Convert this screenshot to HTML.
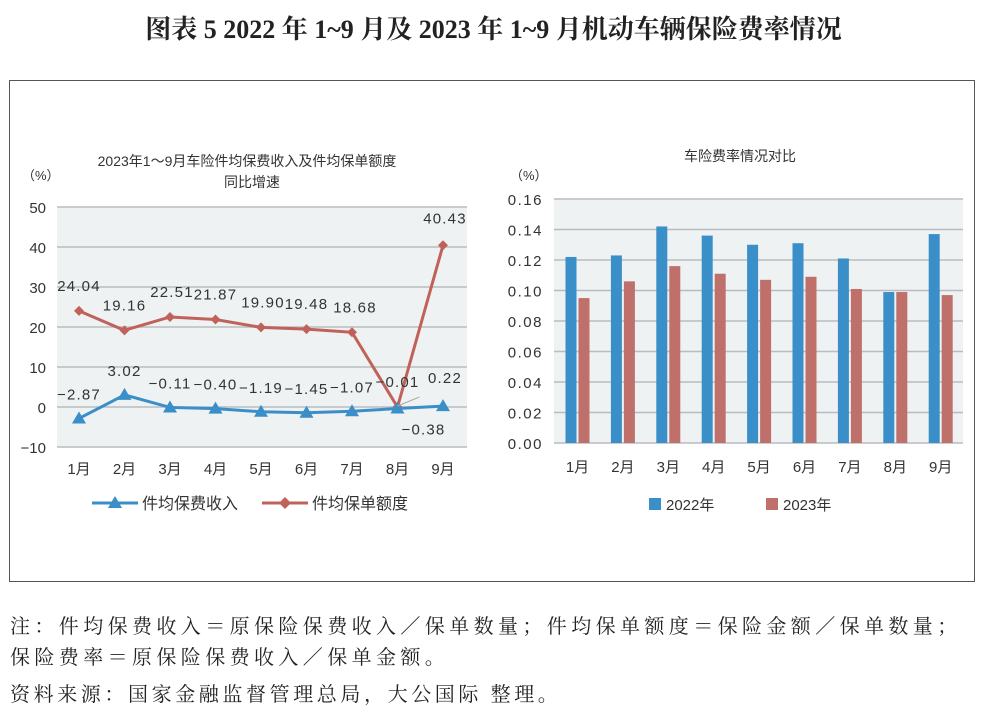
<!DOCTYPE html>
<html><head><meta charset="utf-8"><style>
body{margin:0;width:987px;height:712px;background:#fff;font-family:"Liberation Serif","Noto Serif CJK SC",serif;position:relative;overflow:hidden}
.t{position:absolute;white-space:nowrap}
.f{font-size:20px;letter-spacing:4.4px;color:#222}
</style></head><body>
<div class="t" style="left:0;width:987px;text-align:center;top:9px;font-size:26px;font-weight:bold;color:#222">图表 5 2022 年 1~9 月及 2023 年 1~9 月机动车辆保险费率情况</div>
<div style="position:absolute;left:9px;top:80px;width:966px;height:502px;border:1px solid #555;box-sizing:border-box"></div>
<svg id="svg" width="987" height="712" style="position:absolute;left:0;top:0" font-family="Liberation Sans, Noto Sans CJK SC, sans-serif"></svg>
<div class="t f" style="left:10px;top:610px">注：件均保费收入＝原保险保费收入／保单数量；件均保单额度＝保险金额／保单数量；</div>
<div class="t f" style="left:10px;top:641px">保险费率＝原保险保费收入／保单金额。</div>
<div class="t f" style="left:10px;top:678px;letter-spacing:3.6px">资料来源：国家金融监督管理总局，大公国际 整理。</div>
<script>
const months=["1月","2月","3月","4月","5月","6月","7月","8月","9月"];
const premium=[-2.87,3.02,-0.11,-0.40,-1.19,-1.45,-1.07,-0.38,0.22];
const premiumLabels=["-2.87","3.02","-0.11","-0.40","-1.19","-1.45","-1.07","-0.38","0.22"];
const coverage=[24.04,19.16,22.51,21.87,19.90,19.48,18.68,-0.01,40.43];
const coverageLabels=["24.04","19.16","22.51","21.87","19.90","19.48","18.68","-0.01","40.43"];
const leftTicks=[50,40,30,20,10,0,-10];
const rate2022=[0.122,0.123,0.142,0.136,0.130,0.131,0.121,0.099,0.137];
const rate2023=[0.095,0.106,0.116,0.111,0.107,0.109,0.101,0.099,0.097];
const rightTicks=["0.16","0.14","0.12","0.10","0.08","0.06","0.04","0.02","0.00"];
const svg=document.getElementById('svg');const NS='http://www.w3.org/2000/svg';
function mk(tag,a,txt){const e=document.createElementNS(NS,tag);for(const k in a)e.setAttribute(k,a[k]);if(txt!==undefined)e.textContent=txt;svg.appendChild(e);return e;}
// left chart
const L={x0:57,x1:467,top:207,bot:447,min:-10,max:50};
const ly=v=>L.bot-(v-L.min)/(L.max-L.min)*(L.bot-L.top);
const lx=i=>79+i*45.5;
let e=mk('rect',{x:L.x0,y:L.top,width:L.x1-L.x0,height:L.bot-L.top,fill:'#eef2f3'});

leftTicks.forEach(t=>{e=mk('line',{x1:L.x0,x2:L.x1,y1:ly(t),y2:ly(t),stroke:'#b8bcc0','stroke-width':1.5});

e=mk('text',{x:46,y:ly(t)+6,'text-anchor':'end','font-size':15,fill:'#333'},String(t).replace('-','−'));
});
e=mk('text',{x:247,y:166,'text-anchor':'middle','font-size':14,fill:'#333'},'2023年1～9月车险件均保费收入及件均保单额度');
e=mk('text',{x:252,y:187,'text-anchor':'middle','font-size':14,fill:'#333'},'同比增速');
e=mk('text',{x:22,y:180,'font-size':13,fill:'#333'},'（%）');
months.forEach((m,i)=>{e=mk('text',{x:lx(i),y:474,'text-anchor':'middle','font-size':15,fill:'#333'},m);});
e=mk('polyline',{points:coverage.map((v,i)=>lx(i)+','+ly(v)).join(' '),fill:'none',stroke:'#c0625a','stroke-width':3});
e=mk('polyline',{points:premium.map((v,i)=>lx(i)+','+ly(v)).join(' '),fill:'none',stroke:'#3a8fc8','stroke-width':3});
const lab={'font-size':15,'letter-spacing':'1.2',fill:'#333','text-anchor':'middle'};
coverage.forEach((v,i)=>{const x=lx(i),y=ly(v);e=mk('polygon',{points:`${x},${y-5} ${x+5},${y} ${x},${y+5} ${x-5},${y}`,fill:'#c0625a'});
const ly2=i==8?y-22:y-20;const dx=i==8?2:(i==2||i==4?2:i==6?3:0);
e=mk('text',Object.assign({x:x+dx,y:ly2},lab),coverageLabels[i].replace('-','−'));});
premium.forEach((v,i)=>{const x=lx(i),y=ly(v);e=mk('polygon',{points:`${x},${y-7} ${x+7},${y+5} ${x-7},${y+5}`,fill:'#3a8fc8'});
let ty=y-19,tx=x;if(i==7){ty=y+26;tx=x+26;}if(i==8){tx=x+2;ty=y-23;}
e=mk('text',Object.assign({x:tx,y:ty},lab),premiumLabels[i].replace('-','−'));});
mk('line',{x1:lx(7),y1:ly(0)-1,x2:lx(7)+22,y2:ly(0)-10,stroke:'#aaa','stroke-width':1});
e=mk('line',{x1:92,x2:138,y1:503,y2:503,stroke:'#3a8fc8','stroke-width':3});
mk('polygon',{points:'115,496 122,508 108,508',fill:'#3a8fc8'});
e=mk('text',{x:142,y:509,'font-size':16,fill:'#333'},'件均保费收入');
e=mk('line',{x1:262,x2:308,y1:503,y2:503,stroke:'#c0625a','stroke-width':3});
mk('polygon',{points:'285,497 291,503 285,509 279,503',fill:'#c0625a'});
e=mk('text',{x:312,y:509,'font-size':16,fill:'#333'},'件均保单额度');
// right chart
const R={x0:554,x1:963,top:199,bot:443,max:0.16};
const ry=v=>R.bot-v/R.max*(R.bot-R.top);
const rx=i=>577.5+i*45.4;
e=mk('rect',{x:R.x0,y:R.top,width:R.x1-R.x0,height:R.bot-R.top,fill:'#eef2f3'});
rightTicks.forEach(t=>{const v=parseFloat(t);e=mk('line',{x1:R.x0,x2:R.x1,y1:ry(v),y2:ry(v),stroke:'#b8bcc0','stroke-width':1.5});
e=mk('text',{x:543,y:ry(v)+6,'text-anchor':'end','font-size':15,'letter-spacing':'1.5',fill:'#333'},t);});
e=mk('text',{x:740,y:161,'text-anchor':'middle','font-size':14,fill:'#333'},'车险费率情况对比');
e=mk('text',{x:510,y:180,'font-size':13,fill:'#333'},'（%）');
months.forEach((m,i)=>{const c=rx(i);
e=mk('rect',{x:c-12,y:ry(rate2022[i]),width:11,height:R.bot-ry(rate2022[i]),fill:'#3a8fc8'});
e=mk('rect',{x:c+1,y:ry(rate2023[i]),width:11,height:R.bot-ry(rate2023[i]),fill:'#c0706a'});
e=mk('text',{x:c,y:472,'text-anchor':'middle','font-size':15,fill:'#333'},m);});
e=mk('rect',{x:649,y:498,width:12,height:12,fill:'#3a8fc8'});
e=mk('text',{x:666,y:510,'font-size':15,fill:'#333'},'2022年');
e=mk('rect',{x:766,y:498,width:12,height:12,fill:'#c0706a'});
e=mk('text',{x:783,y:510,'font-size':15,fill:'#333'},'2023年');
</script>
</body></html>
